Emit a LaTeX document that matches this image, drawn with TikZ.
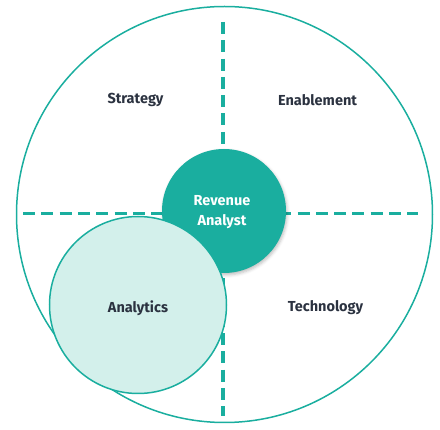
\documentclass[tikz,border=0pt]{standalone}
\usepackage{fontspec}
\setmainfont{Fira Sans}
\usepackage{xcolor}
\usetikzlibrary{positioning,shadows.blur}
\definecolor{ringteal}{HTML}{1AAE9F}
\definecolor{ringmint}{HTML}{D3F0EB}
\definecolor{ringink}{HTML}{2B3240}

\begin{document}
\begin{tikzpicture}[
  x=1pt, y=-1pt,
  font=\fontsize{14.5}{17}\selectfont\bfseries,
  ring/.style={circle, draw=ringteal, inner sep=0pt},
  divider/.style={draw=ringteal, line width=3.3pt, dash pattern=on 12pt off 6.3pt},
  lbl/.style={text=ringink, align=center}
]
\useasboundingbox (0,0) rectangle (440,430);
\node[ring, line width=1.5pt, minimum size=416pt] (outer) at (224.5,214.5) {};
\coordinate (vtop) at (223,22);
\coordinate (vbot) at (223,416);
\coordinate (hleft) at (23,213.5);
\coordinate (hright) at (418,213.5);
\draw[divider] (vtop) -- (vbot);
\draw[divider] (hleft) -- (hright);
\node[ring, draw=none, fill=ringteal, minimum size=124pt,
  blur shadow={shadow xshift=1pt, shadow yshift=-2pt, shadow opacity=25, shadow blur radius=3pt}]
  (core) at (224,211) {};
\node[ring, line width=1.5pt, fill=ringmint, minimum size=177pt] (analytics) at (138,305) {};

\node[lbl] (strategy) at (135.5,100) {Strategy};
\node[lbl] (enable) at (317.5,100) {Enablement};
\node[lbl] at (analytics.center) [yshift=-3pt] (analyticslbl) {Analytics};
\node[lbl] (tech) at (325.5,308) {Technology};
\node[lbl, text=white, font=\fontsize{14.5}{20.3}\selectfont\bfseries] (corelbl) at (222,212) {Revenue\\Analyst};
\end{tikzpicture}
\end{document}
